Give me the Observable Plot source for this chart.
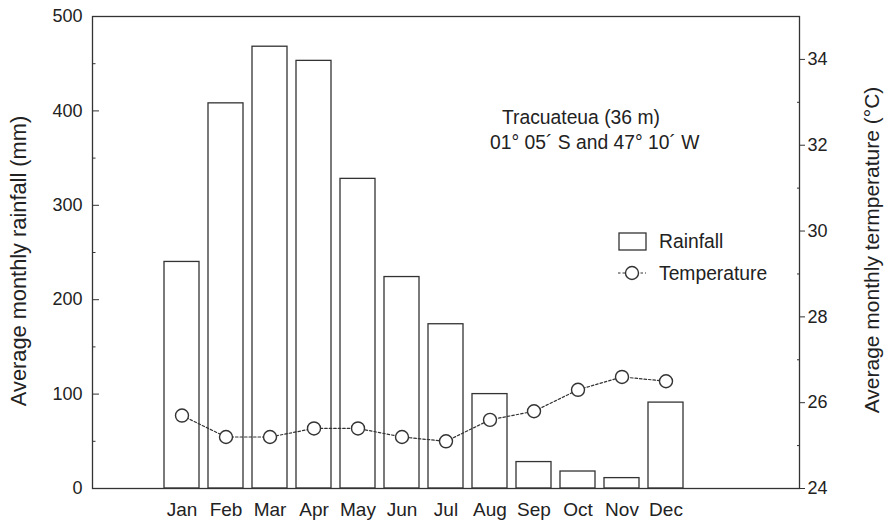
<!DOCTYPE html>
<html><head><meta charset="utf-8">
<script src="https://cdn.jsdelivr.net/npm/d3@7"></script>
<script src="https://cdn.jsdelivr.net/npm/@observablehq/plot@0.6"></script>
<style>
body{margin:0;background:#fff}
#chart svg{display:block}
</style>
</head><body><div id="chart"></div>
<script>
const months = ["Jan","Feb","Mar","Apr","May","Jun","Jul","Aug","Sep","Oct","Nov","Dec"];
const rainfall = [240,408,468,453,328,224,174,100,28,18,11,91];
const temperature = [25.7,25.2,25.2,25.4,25.4,25.2,25.1,25.6,25.8,26.3,26.6,26.5];
const rainTicks = [0,100,200,300,400,500];
const rainMinorTicks = [50,150,250,350,450];
const tempTicks = [24,26,28,30,32,34];
const tempMinorTicks = [25,27,29,31,33];
const rainDomain = [0,500];
const tempDomain = [24,35];
const axisTitles = ["Average monthly rainfall (mm)","Average monthly termperature (°C)"];
const locationLines = ["Tracuateua (36 m)","01° 05´ S and 47° 10´ W"];
const legendLabels = ["Rainfall","Temperature"];

const toRain = t => (t - tempDomain[0]) / (tempDomain[1]-tempDomain[0]) * (rainDomain[1]-rainDomain[0]) + rainDomain[0];
const fromRain = r => (r - rainDomain[0]) / (rainDomain[1]-rainDomain[0]) * (tempDomain[1]-tempDomain[0]) + tempDomain[0];

const data = months.map((m,i)=>({month:m, rain:rainfall[i], temp:temperature[i], tempScaled:toRain(temperature[i])}));

const ink = "#333";
const FONT = "'Liberation Sans', Arial, sans-serif";
const tickFS = 18, monthFS = 19, titleFS = 21, noteFS = 19.3;

const chart = Plot.plot({
  width: 887, height: 524,
  marginLeft: 92, marginRight: 88, marginTop: 16, marginBottom: 36,
  style: {fontFamily: FONT, fontSize: tickFS+"px", color: "#222", background: "#fff"},
  x: {type: "band", domain: months, range: [155, 693], padding: 0.2},
  y: {domain: rainDomain},
  marks: [
    Plot.barY(data, {x: "month", y: "rain", fill: "white", stroke: ink, strokeWidth: 1.3}),
    Plot.line(data, {x: "month", y: "tempScaled", stroke: ink, strokeWidth: 1.2, strokeDasharray: "2.5,2"}),
    Plot.dot(data, {x: "month", y: "tempScaled", r: 6.5, fill: "white", stroke: ink, strokeWidth: 1.4}),
    Plot.frame({stroke: ink, strokeWidth: 1.3}),
    Plot.axisX({tickSize: 0, tickPadding: 14, label: null, fontSize: monthFS}),
    Plot.axisY({ticks: rainTicks, tickSize: 0, tickPadding: 10, fontSize: tickFS, label: null}),
    Plot.axisY({ticks: rainTicks, tickSize: -7, tickFormat: () => "", label: null, stroke: ink}),
    Plot.axisY({ticks: rainMinorTicks, tickSize: -3.5, tickFormat: () => "", label: null, stroke: ink}),
    Plot.axisY({anchor: "right", ticks: tempTicks.map(toRain), tickFormat: v => String(Math.round(fromRain(v))),
      tickSize: 5, tickPadding: 3, fontSize: tickFS, stroke: ink, label: null}),
    Plot.axisY({anchor: "right", ticks: tempMinorTicks.map(toRain), tickSize: -3, tickFormat: () => "", label: null, stroke: ink})
  ]
});

document.getElementById("chart").appendChild(chart);

const svg = d3.select(chart);
// Axis titles
const t = svg.append("g").attr("font-family", FONT).attr("fill", "#222").attr("text-anchor", "middle");
t.append("text").attr("font-size", 21.8).attr("transform", "translate(18,261) rotate(-90)").attr("dy", "0.35em").text(axisTitles[0]);
t.append("text").attr("font-size", titleFS).attr("transform", "translate(872,250) rotate(-90)").attr("dy", "0.35em").text(axisTitles[1]);

// Annotation and legend
const g = svg.append("g").attr("font-family", FONT).attr("font-size", noteFS)
  .attr("fill", "#222").attr("text-anchor", "start");
g.append("text").attr("x", 502).attr("y", 117).attr("dy", "0.35em").text(locationLines[0]);
g.append("text").attr("x", 490).attr("y", 142).attr("dy", "0.35em").text(locationLines[1]);

g.append("rect").attr("x", 619).attr("y", 233).attr("width", 27).attr("height", 17)
  .attr("fill", "white").attr("stroke", ink).attr("stroke-width", 1.3);
g.append("text").attr("x", 659).attr("y", 241.5).attr("dy", "0.35em").text(legendLabels[0]);
g.append("line").attr("x1", 618).attr("x2", 646).attr("y1", 273).attr("y2", 273)
  .attr("stroke", ink).attr("stroke-width", 1.2).attr("stroke-dasharray", "2.5,2");
g.append("circle").attr("cx", 632).attr("cy", 273).attr("r", 6.5).attr("fill", "white").attr("stroke", ink).attr("stroke-width", 1.4);
g.append("text").attr("x", 659).attr("y", 273).attr("dy", "0.35em").text(legendLabels[1]);
</script>
</body></html>
